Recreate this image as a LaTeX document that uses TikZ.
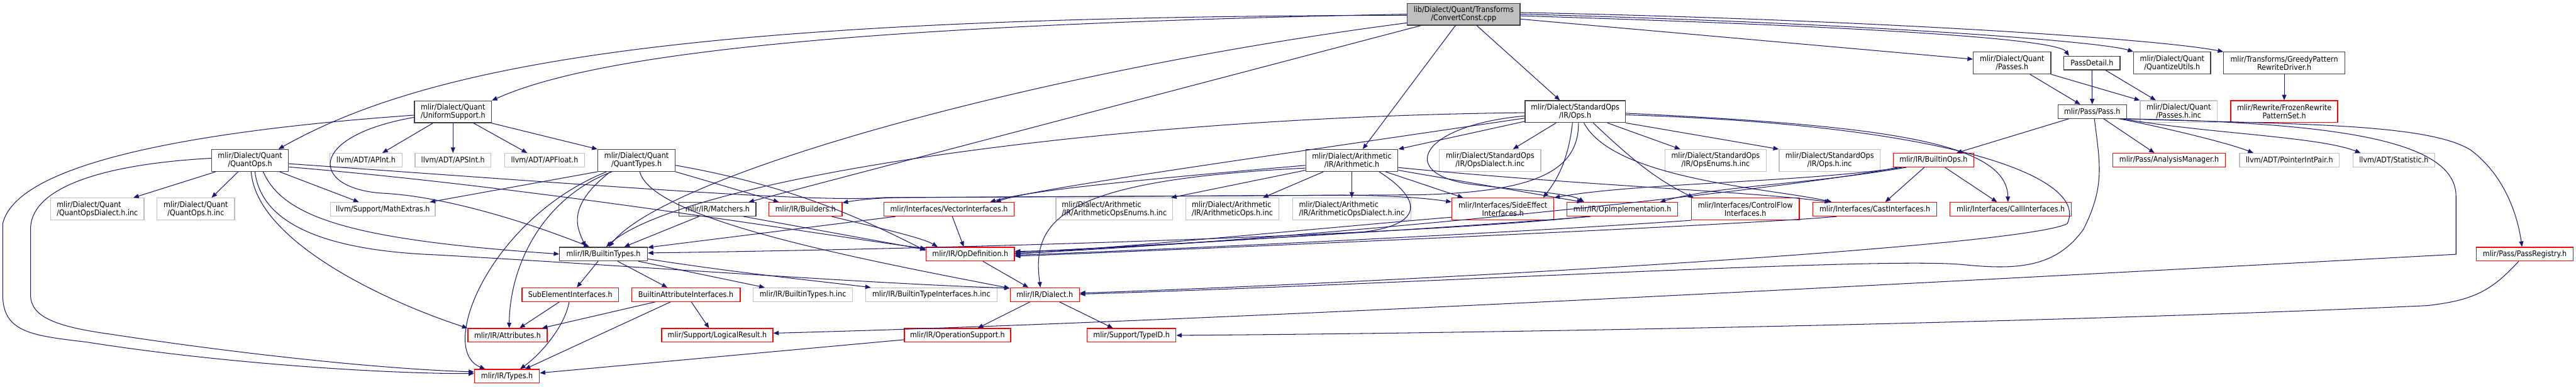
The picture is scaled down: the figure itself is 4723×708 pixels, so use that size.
\documentclass[tikz,border=0pt]{standalone}
\usepackage{fontspec}
\setmainfont{DejaVu Sans}[FakeStretch=0.9]
\usetikzlibrary{arrows.meta}
\definecolor{edgeblue}{HTML}{191970}
\definecolor{nodered}{HTML}{FF0000}
\definecolor{nodegrey}{HTML}{BFBFBF}
\begin{document}
\begin{tikzpicture}[x=1pt,y=-1pt,
  hdr/.style={draw=black!75,line width=1.5pt,fill=white,inner sep=0pt,align=center,
    font=\fontsize{14.3}{15}\selectfont,minimum height=25pt},
  tall/.style={minimum height=40pt},
  missing/.style={hdr,draw=nodered},
  nodoc/.style={hdr,draw=nodegrey},
  incl/.style={draw=edgeblue,line width=1.2pt,-{Triangle[length=10pt,width=8pt]}}]
\useasboundingbox (0,0) rectangle (4723,708);
% top rows
\node[hdr,tall,fill=nodegrey,minimum width=207pt] (root) at (2683.5,26) {lib/Dialect/Quant/Transforms\\/ConvertConst.cpp};
\node[hdr,tall,minimum width=142pt] (passes) at (3689,115.5) {mlir/Dialect/Quant\\/Passes.h};
\node[hdr,minimum width=103pt] (passdetail) at (3835.5,115.5) {PassDetail.h};
\node[hdr,tall,minimum width=141pt] (quantize) at (3982.5,115.5) {mlir/Dialect/Quant\\/QuantizeUtils.h};
\node[hdr,tall,minimum width=222pt] (greedy) at (4188,115.5) {mlir/Transforms/GreedyPattern\\RewriteDriver.h};
\node[hdr,tall,minimum width=141pt] (us) at (830.5,205) {mlir/Dialect/Quant\\/UniformSupport.h};
\node[hdr,tall,minimum width=184pt] (stdops) at (2888,204.5) {mlir/Dialect/StandardOps\\/IR/Ops.h};
\node[hdr,minimum width=126pt] (pass) at (3836,204.5) {mlir/Pass/Pass.h};
\node[nodoc,tall,minimum width=141pt] (passesinc) at (3994.5,204.5) {mlir/Dialect/Quant\\/Passes.h.inc};
\node[missing,tall,minimum width=196pt] (frozen) at (4188,204.5) {mlir/Rewrite/FrozenRewrite\\PatternSet.h};
% third row
\node[hdr,tall,minimum width=141pt] (qops) at (458.5,294) {mlir/Dialect/Quant\\/QuantOps.h};
\node[nodoc,minimum width=132pt] (apint) at (671,293.5) {llvm/ADT/APInt.h};
\node[nodoc,minimum width=139pt] (apsint) at (830.5,293.5) {llvm/ADT/APSInt.h};
\node[nodoc,minimum width=147pt] (apfloat) at (998.5,293.5) {llvm/ADT/APFloat.h};
\node[hdr,tall,minimum width=142pt] (qtypes) at (1167,294) {mlir/Dialect/Quant\\/QuantTypes.h};
\node[hdr,tall,minimum width=169pt] (arith) at (2478.5,294) {mlir/Dialect/Arithmetic\\/IR/Arithmetic.h};
\node[nodoc,tall,minimum width=186pt] (opsdialect) at (2732,294) {mlir/Dialect/StandardOps\\/IR/OpsDialect.h.inc};
\node[nodoc,tall,minimum width=185pt] (opsenums) at (3145.5,294) {mlir/Dialect/StandardOps\\/IR/OpsEnums.h.inc};
\node[nodoc,tall,minimum width=185pt] (opsinc) at (3354.5,294) {mlir/Dialect/StandardOps\\/IR/Ops.h.inc};
\node[missing,minimum width=148pt] (builtinops) at (3545,293.5) {mlir/IR/BuiltinOps.h};
\node[missing,minimum width=206pt] (analysis) at (3977,293.5) {mlir/Pass/AnalysisManager.h};
\node[nodoc,minimum width=183pt] (pip) at (4197.5,293.5) {llvm/ADT/PointerIntPair.h};
\node[nodoc,minimum width=150pt] (statistic) at (4389,293.5) {llvm/ADT/Statistic.h};
% fourth row
\node[nodoc,tall,align=left,minimum width=171pt] (qopsdialect) at (178.5,383) {mlir/Dialect/Quant\\/QuantOpsDialect.h.inc};
\node[nodoc,tall,minimum width=142pt] (qopsinc) at (359,383) {mlir/Dialect/Quant\\/QuantOps.h.inc};
\node[nodoc,minimum width=192pt] (mathextras) at (702,383.5) {llvm/Support/MathExtras.h};
\node[hdr,minimum width=141pt] (matchers) at (1315.5,383.5) {mlir/IR/Matchers.h};
\node[missing,minimum width=134pt] (builders) at (1477,383.5) {mlir/IR/Builders.h};
\node[missing,minimum width=238pt] (vector) at (1740,383.5) {mlir/Interfaces/VectorInterfaces.h};
\node[nodoc,tall,align=left,minimum width=214pt] (arithenums) at (2043,383) {mlir/Dialect/Arithmetic\\/IR/ArithmeticOpsEnums.h.inc};
\node[nodoc,tall,align=left,minimum width=171pt] (arithops) at (2259.5,383) {mlir/Dialect/Arithmetic\\/IR/ArithmeticOps.h.inc};
\node[nodoc,tall,align=left,minimum width=217pt] (arithdialect) at (2478.5,383) {mlir/Dialect/Arithmetic\\/IR/ArithmeticOpsDialect.h.inc};
\node[missing,tall,minimum width=187pt] (sideeffect) at (2755.5,383) {mlir/Interfaces/SideEffect\\Interfaces.h};
\node[missing,minimum width=203pt] (opimpl) at (2974.5,383.5) {mlir/IR/OpImplementation.h};
\node[missing,tall,minimum width=198pt] (controlflow) at (3200,383) {mlir/Interfaces/ControlFlow\\Interfaces.h};
\node[missing,minimum width=227pt] (castif) at (3437.5,383.5) {mlir/Interfaces/CastInterfaces.h};
\node[missing,minimum width=223pt] (callif) at (3686.5,383.5) {mlir/Interfaces/CallInterfaces.h};
% lower rows
\node[hdr,minimum width=161pt] (btypes) at (1106.5,465.5) {mlir/IR/BuiltinTypes.h};
\node[missing,minimum width=162pt] (opdef) at (1779,465.5) {mlir/IR/OpDefinition.h};
\node[missing,minimum width=178pt] (registry) at (4629,465.5) {mlir/Pass/PassRegistry.h};
\node[missing,minimum width=177pt] (subelem) at (1045.5,540) {SubElementInterfaces.h};
\node[missing,minimum width=199pt] (battr) at (1257.5,540) {BuiltinAttributeInterfaces.h};
\node[nodoc,minimum width=182pt] (btypesinc) at (1472,540) {mlir/IR/BuiltinTypes.h.inc};
\node[nodoc,minimum width=241pt] (btiinc) at (1707.5,540) {mlir/IR/BuiltinTypeInterfaces.h.inc};
\node[missing,minimum width=127pt] (dialect) at (1915.5,540) {mlir/IR/Dialect.h};
\node[missing,minimum width=145pt] (attrs) at (930.5,614.5) {mlir/IR/Attributes.h};
\node[missing,minimum width=204pt] (logical) at (1315,614.5) {mlir/Support/LogicalResult.h};
\node[missing,minimum width=195pt] (opsupport) at (1755.5,614.5) {mlir/IR/OperationSupport.h};
\node[missing,minimum width=163pt] (typeid) at (2074.5,614.5) {mlir/Support/TypeID.h};
\node[missing,minimum width=119pt] (types) at (929.5,689.5) {mlir/IR/Types.h};
% includes of the source file
\draw[incl] (root.west) .. controls (1600,45) and (1100,95) .. (us.north east);
\draw[incl] ([yshift=-2]root.west) .. controls (1300,30) and (800,110) .. ([xshift=52]qops.north);
\draw[incl] ([xshift=-15]root.south) -- ([xshift=20]arith.north);
\draw[incl] ([xshift=24]root.south) -- ([xshift=-28]stdops.north);
\draw[incl] ([yshift=-16]root.west) .. controls (1900,130) and (1220,320) .. ([xshift=10]btypes.north);
\draw[incl] ([xshift=-78]root.south) -- ([xshift=57]matchers.north);
\draw[incl] ([yshift=-9]root.east) -- ([yshift=7]passes.west);
\draw[incl] ([yshift=-3]root.east) .. controls (3400,48) and (3770,70) .. ([xshift=-42]passdetail.north);
\draw[incl] (root.east) .. controls (3400,42) and (3850,75) .. (quantize.north west);
\draw[incl] ([yshift=3]root.east) .. controls (3400,35) and (3950,70) .. (greedy.north west);
% UniformSupport.h
\draw[incl] ([xshift=-37]us.south) -- ([xshift=30]apint.north);
\draw[incl] (us.south) -- (apsint.north);
\draw[incl] ([xshift=38]us.south) -- ([xshift=-32]apfloat.north);
\draw[incl] (us.south east) -- (qtypes.north west);
\draw[incl] ([yshift=-10]us.west) .. controls (560,250) and (570,345) .. (700,354) .. controls (830,360) and (1000,420) .. ([xshift=-26]btypes.north);
\draw[incl] ([yshift=-6]us.west) .. controls (350,240) and (30,300) .. (5,410) -- (5,540) .. controls (5,610) and (60,615) .. (160,627) .. controls (400,665) and (700,685) .. ([yshift=5]types.west);
% QuantOps.h
\draw[incl] ([yshift=4]qops.west) .. controls (200,300) and (56,340) .. (56,420) -- (56,540) .. controls (56,580) and (100,598) .. (200,612) .. controls (450,650) and (700,676) .. ([yshift=8]types.west);
\draw[incl] ([xshift=-63]qops.south) -- ([xshift=66]qopsdialect.north);
\draw[incl] ([xshift=-22]qops.south) -- ([xshift=29]qopsinc.north);
\draw[incl] ([xshift=2]qops.south) .. controls (470,440) and (700,550) .. (attrs.north west);
\draw[incl] ([xshift=9]qops.south) .. controls (480,420) and (620,460) .. (800,467) .. controls (1200,490) and (1600,520) .. ([yshift=12]dialect.west);
\draw[incl] ([xshift=24]qops.south) .. controls (520,400) and (650,440) .. (btypes.west);
\draw[incl] ([xshift=54]qops.south) -- ([xshift=-44]mathextras.north);
\draw[incl] ([yshift=-12]qops.east) .. controls (1000,345) and (1500,430) .. ([yshift=10]opdef.west);
\draw[incl] ([yshift=-6]qops.east) .. controls (1100,340) and (1500,372) .. (1620,362) -- (2400,358) .. controls (2550,356) and (2620,364) .. ([yshift=13]sideeffect.west);
% QuantTypes.h
\draw[incl] ([xshift=-45]qtypes.south) .. controls (1000,360) and (935,480) .. ([xshift=3]attrs.north);
\draw[incl] ([xshift=-55]qtypes.south) .. controls (900,400) and (800,640) .. ([xshift=-40]types.north);
\draw[incl] ([xshift=-48]qtypes.south) .. controls (1035,380) and (1060,420) .. ([xshift=-33]btypes.north);
\draw[incl] (qtypes.south west) -- ([xshift=86]mathextras.north);
\draw[incl] (qtypes.south east) -- ([xshift=-49]builders.north);
\draw[incl] ([yshift=-9]qtypes.east) .. controls (1450,340) and (1580,400) .. ([yshift=6]opdef.west);
\draw[incl] ([xshift=6]qtypes.south) .. controls (1195,400) and (1550,470) .. ([yshift=12]dialect.west);
% IR headers
\draw[incl] ([xshift=-34]matchers.south) -- ([xshift=38]btypes.north);
\draw[incl] ([xshift=48]matchers.south) -- ([yshift=8]opdef.west);
\draw[incl] ([xshift=48]builders.south) .. controls (1600,415) and (1690,435) .. ([xshift=-60]opdef.north);
\draw[incl] ([xshift=6]vector.south) -- ([xshift=-12]opdef.north);
\draw[incl] ([xshift=-98]vector.south) -- ([yshift=12]btypes.east);
\draw[incl] ([xshift=-64]opimpl.south) .. controls (2600,430) and (1800,455) .. ([yshift=2]btypes.east);
\draw[incl] ([xshift=-58]opimpl.south) .. controls (2600,422) and (2100,450) .. ([yshift=3]opdef.east);
\draw[incl] ([yshift=-15]sideeffect.west) .. controls (2400,420) and (2100,450) .. (opdef.east);
\draw[incl] (controlflow.south west) .. controls (2800,425) and (2200,455) .. ([yshift=-2]opdef.east);
\draw[incl] ([xshift=-70]castif.south) .. controls (3200,412) and (2300,452) .. ([yshift=-4]opdef.east);
\draw[incl] ([xshift=23]opdef.south) -- ([xshift=-30]dialect.north);
\draw[incl] ([xshift=-27]dialect.south) -- ([xshift=37]opsupport.north);
\draw[incl] ([xshift=27]dialect.south) -- ([xshift=-34]typeid.north);
\draw[incl] ([yshift=-8]opsupport.west) -- ([yshift=6]types.east);
\draw[incl] ([xshift=-10]btypes.south) -- ([xshift=12]subelem.north);
\draw[incl] ([xshift=26]btypes.south) -- ([xshift=-34]battr.north);
\draw[incl] ([xshift=64]btypes.south) -- ([xshift=-70]btypesinc.north);
\draw[incl] ([yshift=-9]btypes.east) .. controls (1350,500) and (1500,515) .. ([xshift=-111]btiinc.north);
\draw[incl] ([xshift=-20]subelem.south) -- ([xshift=22]attrs.north);
\draw[incl] ([xshift=-2]subelem.south) .. controls (1035,600) and (990,650) .. ([xshift=24]types.north);
\draw[incl] ([xshift=-56]battr.south) -- ([xshift=-10]attrs.north east);
\draw[incl] ([xshift=-28]battr.south) -- ([xshift=33]types.north);
\draw[incl] ([xshift=10]battr.south) -- ([xshift=-15]logical.north);
% Arithmetic.h
\draw[incl] (arith.south) -- (arithdialect.north);
\draw[incl] ([yshift=-18]arith.west) -- ([xshift=104]arithenums.north);
\draw[incl] ([xshift=-52]arith.south) -- ([xshift=56]arithops.north);
\draw[incl] ([yshift=-9]arith.west) .. controls (2200,320) and (1900,345) .. ([xshift=75]vector.north);
\draw[incl] ([yshift=-14]arith.west) .. controls (1950,330) and (1890,400) .. ([xshift=-8]dialect.north);
\draw[incl] ([xshift=62]arith.south) -- ([xshift=-73]sideeffect.north);
\draw[incl] ([yshift=-18]arith.east) -- ([xshift=-73]opimpl.north);
\draw[incl] ([yshift=-13]arith.east) .. controls (2900,340) and (3200,350) .. ([xshift=-82]castif.north);
\draw[incl] ([xshift=50]arith.south) .. controls (2600,360) and (2620,410) .. (2500,425) .. controls (2200,445) and (1950,460) .. ([yshift=5]opdef.east);
% StandardOps/IR/Ops.h
\draw[incl] ([yshift=-18]stdops.west) -- (arith.north east);
\draw[incl] ([xshift=-35]stdops.south) -- ([xshift=42]opsdialect.north);
\draw[incl] ([xshift=59]stdops.south) -- ([xshift=-65]opsenums.north);
\draw[incl] (stdops.south east) -- (opsinc.north west);
\draw[incl] ([xshift=-5]stdops.south) .. controls (2875,300) and (2850,335) .. ([xshift=74]sideeffect.north);
\draw[incl] ([xshift=6]stdops.south) .. controls (2895,320) and (2800,352) .. (2600,357) -- (1650,362) .. controls (1600,363) and (1570,367) .. ([yshift=12]builders.east);
\draw[incl] ([yshift=-2]stdops.west) .. controls (2000,215) and (1250,330) .. ([xshift=5]btypes.north);
\draw[incl] ([yshift=-12]stdops.west) .. controls (2300,290) and (1900,345) .. ([xshift=85]vector.north);
\draw[incl] ([yshift=-8]stdops.west) .. controls (2600,230) and (2560,320) .. (2700,338) .. controls (2800,350) and (2880,355) .. ([xshift=-70]opimpl.north);
\draw[incl] ([xshift=33]stdops.south) .. controls (3000,300) and (3040,330) .. ([xshift=-95]controlflow.north);
\draw[incl] ([xshift=16]stdops.south) .. controls (2960,330) and (3250,345) .. ([xshift=-79]castif.north);
\draw[incl] ([yshift=-3]stdops.east) .. controls (3450,230) and (3680,260) .. ([xshift=-5]callif.north);
\draw[incl] ([yshift=-6]stdops.east) .. controls (3600,230) and (3830,330) .. (3790,410) .. controls (3700,455) and (2500,520) .. ([yshift=3]dialect.east);
% BuiltinOps.h
\draw[incl] ([xshift=-17]builtinops.south) -- ([xshift=19]castif.north);
\draw[incl] ([xshift=21]builtinops.south) -- ([xshift=-25]callif.north);
\draw[incl] ([xshift=-50]builtinops.south) .. controls (3300,340) and (3150,340) .. ([xshift=69]opimpl.north);
\draw[incl] ([xshift=-58]builtinops.south) .. controls (3300,335) and (3000,335) .. (sideeffect.north east);
\draw[incl] ([xshift=-66]builtinops.south) .. controls (3300,345) and (2400,440) .. ([yshift=1]opdef.east);
% passes
\draw[incl] ([xshift=33]passes.south) -- ([xshift=-22]pass.north);
\draw[incl] (passes.south east) -- (passesinc.north west);
\draw[incl] (passdetail.south) -- (pass.north);
\draw[incl] ([xshift=25]passdetail.south) -- ([xshift=-42]passesinc.north);
\draw[incl] (greedy.south) -- (frozen.north);
\draw[incl] ([xshift=-43]pass.south) -- ([xshift=42]builtinops.north);
\draw[incl] ([xshift=21]pass.south) -- ([xshift=-27]analysis.north);
\draw[incl] ([xshift=50]pass.south) .. controls (3950,230) and (4080,260) .. ([xshift=-66]pip.north);
\draw[incl] ([xshift=55]pass.south) .. controls (4050,245) and (4250,250) .. ([xshift=-61]statistic.north);
\draw[incl] ([xshift=60]pass.south) .. controls (4300,225) and (4503,260) .. (4503,360) -- (4503,466) .. controls (3500,520) and (2200,590) .. ([yshift=4]logical.east);
\draw[incl] ([xshift=63]pass.south) .. controls (4200,228) and (4450,225) .. (4530,275) .. controls (4590,320) and (4615,390) .. ([xshift=-5]registry.north);
\draw[incl] ([xshift=4]pass.south) .. controls (3850,300) and (3860,340) .. (3820,420) .. controls (3770,490) and (3700,495) .. (3600,485) .. controls (3450,470) and (2600,520) .. ([yshift=1]dialect.east);
\draw[incl] ([xshift=-11]registry.south) .. controls (4570,530) and (4540,550) .. (4450,560) .. controls (3800,590) and (2800,610) .. (typeid.east);
\end{tikzpicture}
\end{document}
